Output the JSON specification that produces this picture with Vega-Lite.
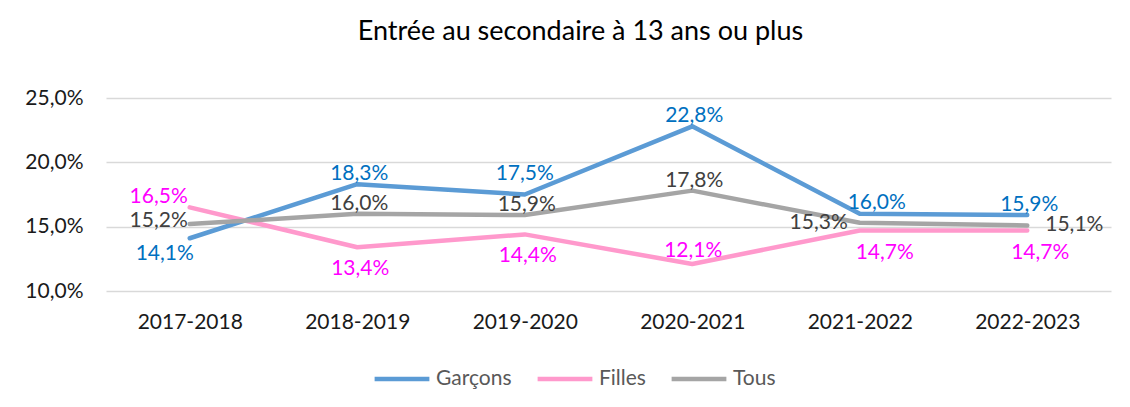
{
  "$schema": "https://vega.github.io/schema/vega-lite/v6.json",
  "autosize": "none",
  "width": 1005,
  "height": 193,
  "padding": {"left": 106, "top": 98, "right": 19, "bottom": 116},
  "background": "white",
  "config": {
    "font": "Lato",
    "locale": {"number": {"decimal": ",", "thousands": " ", "grouping": [3], "currency": ["", " €"]}},
    "view": {"stroke": null},
    "text": {"fontSize": 21, "baseline": "middle"}
  },
  "title": {
    "text": "Entrée au secondaire à 13 ans ou plus",
    "fontSize": 27,
    "fontWeight": "normal",
    "color": "#000000",
    "anchor": "middle",
    "frame": "group",
    "offset": 41,
    "dx": -28
  },
  "data": {
    "values": [
      {"annee": "2017-2018", "serie": "Garçons", "valeur": 0.141},
      {"annee": "2018-2019", "serie": "Garçons", "valeur": 0.183},
      {"annee": "2019-2020", "serie": "Garçons", "valeur": 0.175},
      {"annee": "2020-2021", "serie": "Garçons", "valeur": 0.228},
      {"annee": "2021-2022", "serie": "Garçons", "valeur": 0.160},
      {"annee": "2022-2023", "serie": "Garçons", "valeur": 0.159},
      {"annee": "2017-2018", "serie": "Filles", "valeur": 0.165},
      {"annee": "2018-2019", "serie": "Filles", "valeur": 0.134},
      {"annee": "2019-2020", "serie": "Filles", "valeur": 0.144},
      {"annee": "2020-2021", "serie": "Filles", "valeur": 0.121},
      {"annee": "2021-2022", "serie": "Filles", "valeur": 0.147},
      {"annee": "2022-2023", "serie": "Filles", "valeur": 0.147},
      {"annee": "2017-2018", "serie": "Tous", "valeur": 0.152},
      {"annee": "2018-2019", "serie": "Tous", "valeur": 0.160},
      {"annee": "2019-2020", "serie": "Tous", "valeur": 0.159},
      {"annee": "2020-2021", "serie": "Tous", "valeur": 0.178},
      {"annee": "2021-2022", "serie": "Tous", "valeur": 0.153},
      {"annee": "2022-2023", "serie": "Tous", "valeur": 0.151}
    ]
  },
  "encoding": {
    "x": {
      "field": "annee", "type": "ordinal", "title": null,
      "scale": {"type": "point", "padding": 0.5},
      "axis": {"domain": false, "ticks": false, "labelAngle": 0, "labelFontSize": 21, "labelColor": "#1A1A1A", "labelPadding": 20, "grid": false}
    },
    "y": {
      "field": "valeur", "type": "quantitative", "title": null,
      "scale": {"domain": [0.10, 0.25], "nice": false, "zero": false},
      "axis": {"values": [0.10, 0.15, 0.20, 0.25], "format": ".1%", "domain": false, "ticks": false, "labelFontSize": 21, "labelColor": "#1A1A1A", "labelPadding": 23, "gridColor": "#D9D9D9", "gridWidth": 1.3}
    }
  },
  "layer": [
    {
      "mark": {"type": "line", "strokeWidth": 4.5, "strokeCap": "round", "strokeJoin": "round"},
      "encoding": {
        "color": {
          "field": "serie", "type": "nominal", "sort": ["Garçons", "Filles", "Tous"],
          "scale": {"domain": ["Garçons", "Filles", "Tous"], "range": ["#5B9BD5", "#FF99CC", "#A5A5A5"]},
          "legend": {
            "title": null, "orient": "none", "direction": "horizontal",
            "legendX": 266, "legendY": 251,
            "symbolType": "stroke", "symbolSize": 3000, "symbolStrokeWidth": 4.5,
            "labelFontSize": 21, "labelColor": "#595959", "labelOffset": 4, "columnPadding": 16
          }
        }
      }
    },
    {
      "encoding": {
        "text": {"field": "valeur", "type": "quantitative", "format": ".1%"},
        "fill": {"field": "serie", "type": "nominal", "scale": {"domain": ["Garçons", "Filles", "Tous"], "range": ["#0070C0", "#FF00FF", "#404040"]}, "legend": null}
      },
      "layer": [
        {
          "transform": [{"filter": "(datum.serie=='Garçons' && indexof(['2018-2019','2020-2021','2022-2023'], datum.annee)>=0) || (datum.serie=='Tous' && indexof(['2018-2019','2019-2020','2020-2021'], datum.annee)>=0)"}],
          "mark": {"type": "text", "dy": -10, "dx": 2}
        },
        {
          "transform": [{"filter": "datum.serie=='Filles' && datum.annee=='2020-2021'"}],
          "mark": {"type": "text", "dy": -13, "dx": 1}
        },
        {
          "transform": [{"filter": "datum.serie=='Garçons' && datum.annee=='2019-2020'"}],
          "mark": {"type": "text", "dy": -21}
        },
        {
          "transform": [{"filter": "datum.serie=='Garçons' && datum.annee=='2021-2022'"}],
          "mark": {"type": "text", "dy": -11, "dx": 17}
        },
        {
          "transform": [{"filter": "datum.serie=='Filles' && indexof(['2018-2019','2019-2020'], datum.annee)>=0"}],
          "mark": {"type": "text", "dy": 22, "dx": 3}
        },
        {
          "transform": [{"filter": "datum.serie=='Filles' && datum.annee=='2021-2022'"}],
          "mark": {"type": "text", "dy": 22, "dx": 25}
        },
        {
          "transform": [{"filter": "datum.serie=='Filles' && datum.annee=='2022-2023'"}],
          "mark": {"type": "text", "dy": 22, "dx": 13}
        },
        {
          "transform": [{"filter": "datum.serie=='Garçons' && datum.annee=='2017-2018'"}],
          "mark": {"type": "text", "dy": 16, "dx": -25}
        },
        {
          "transform": [{"filter": "datum.serie=='Filles' && datum.annee=='2017-2018'"}],
          "mark": {"type": "text", "align": "right", "dx": -2, "dy": -10}
        },
        {
          "transform": [{"filter": "datum.serie=='Tous' && datum.annee=='2017-2018'"}],
          "mark": {"type": "text", "align": "right", "dx": -2, "dy": -3}
        },
        {
          "transform": [{"filter": "datum.serie=='Tous' && datum.annee=='2021-2022'"}],
          "mark": {"type": "text", "align": "right", "dx": -12, "dy": 0}
        },
        {
          "transform": [{"filter": "datum.serie=='Tous' && datum.annee=='2022-2023'"}],
          "mark": {"type": "text", "align": "left", "dx": 18, "dy": 0}
        }
      ]
    }
  ]
}
